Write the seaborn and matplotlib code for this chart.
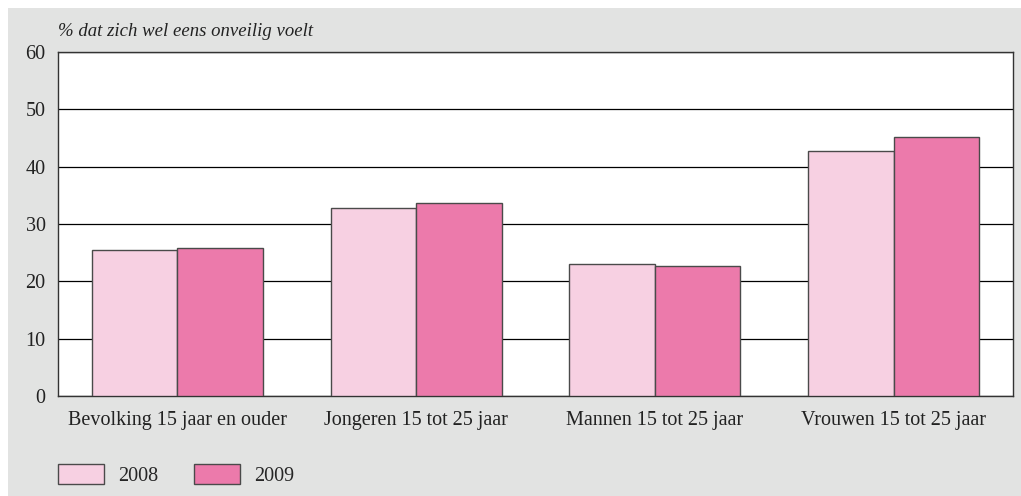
import matplotlib
matplotlib.use("Agg")
import matplotlib.pyplot as plt
import seaborn as sns
import pandas as pd
from matplotlib.patches import Patch

categories = ["Bevolking 15 jaar en ouder", "Jongeren 15 tot 25 jaar",
              "Mannen 15 tot 25 jaar", "Vrouwen 15 tot 25 jaar"]
years = ["2008", "2009"]
values_2008 = [25.5, 32.8, 23.0, 42.8]
values_2009 = [25.8, 33.7, 22.7, 45.1]
y_ticks = [0, 10, 20, 30, 40, 50, 60]
y_title = "% dat zich wel eens onveilig voelt"

df = pd.DataFrame({
    "categorie": categories * 2,
    "jaar": [years[0]] * 4 + [years[1]] * 4,
    "waarde": values_2008 + values_2009,
})

palette = {"2008": "#F7D0E2", "2009": "#EC7AAB"}
panel_bg = "#E2E3E2"
fs = 14.5

sns.set_theme(style="white")
plt.rcParams["font.family"] = ["Liberation Serif", "DejaVu Serif"]

fig = plt.figure(figsize=(10.21, 4.96), dpi=100)
fig.patch.set_facecolor("white")
# grey panel behind the chart
fig.add_artist(plt.Rectangle((8 / 1021, 0), 1 - 8 / 1021, 1 - 8 / 496,
                             transform=fig.transFigure, facecolor=panel_bg,
                             edgecolor="none", zorder=0))

ax = fig.add_axes([58 / 1021, 1 - 396 / 496, (1013 - 58) / 1021, (396 - 52) / 496])
ax.set_facecolor("white")

sns.barplot(data=df, x="categorie", y="waarde", hue="jaar", palette=palette,
            order=categories, hue_order=years, width=0.716, saturation=1,
            edgecolor="#4a4a4a", linewidth=1.0, ax=ax, legend=False, zorder=3)

ax.set_ylim(0, 60)
ax.set_yticks(y_ticks)
ax.set_yticklabels([str(t) for t in y_ticks], fontsize=fs)
ax.yaxis.grid(True, color="black", linewidth=0.9, zorder=0)
ax.set_axisbelow(True)
ax.tick_params(axis="both", length=0, colors="#222222")
ax.tick_params(axis="y", pad=9)
ax.tick_params(axis="x", pad=11, labelsize=fs)
ax.set_xlabel("")
ax.set_ylabel("")
for s in ax.spines.values():
    s.set_visible(True)
    s.set_color("#333333")
    s.set_linewidth(1.0)

fig.text(58 / 1021, 1 - 32 / 496, y_title, fontsize=13.5, style="italic",
         color="#222222", va="center", ha="left")

handles = [Patch(facecolor=palette[y], edgecolor="#4a4a4a", linewidth=1.0, label=y)
           for y in years]
fig.legend(handles=handles, loc="center left", bbox_to_anchor=(58 / 1021, 1 - 475 / 496),
           ncol=2, frameon=False, fontsize=fs, handlelength=2.3, handleheight=1.15,
           handletextpad=0.7, columnspacing=1.75, borderpad=0, borderaxespad=0)

fig.savefig("out.png", dpi=100, facecolor=fig.get_facecolor())
